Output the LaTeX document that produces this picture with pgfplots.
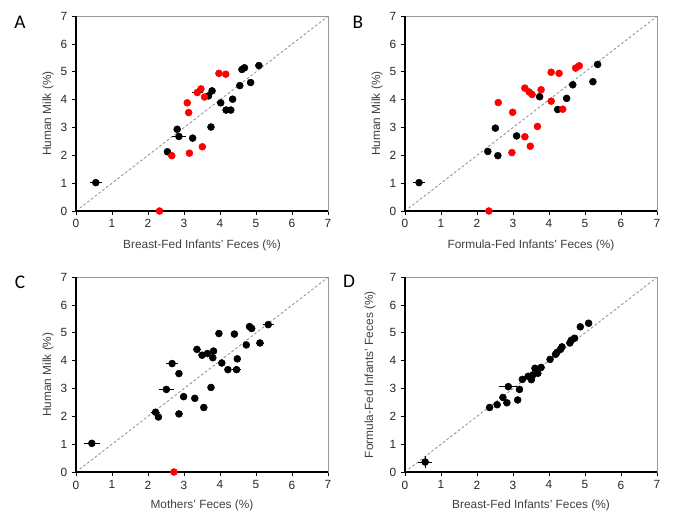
\documentclass[border=0pt]{standalone}
\usepackage{pgfplots}
\pgfplotsset{compat=1.18}
\usepackage{pgfplotstable}
\usepackage{fontspec}
\setmainfont{Liberation Sans}
\newfontfamily\letterfont{Carlito}

\pgfplotstableread{
x y ex
0.55 1.02 0.17
2.54 2.13 0
2.81 2.94 0
2.86 2.68 0.20
3.24 2.62 0
3.75 3.02 0
3.68 4.14 0
3.78 4.32 0
4.02 3.89 0
4.17 3.63 0
4.30 3.63 0
4.35 4.02 0
4.55 4.51 0
4.85 4.62 0
4.61 5.09 0
4.68 5.15 0
5.08 5.23 0
}\Ablack
\pgfplotstableread{
x y ex
2.32 0.00 0
2.66 1.99 0
3.15 2.08 0
3.51 2.31 0
3.09 3.89 0
3.13 3.54 0
3.37 4.26 0.15
3.47 4.39 0
3.57 4.10 0
3.97 4.95 0
4.16 4.92 0
}\Ared
\pgfplotstableread{
x y ex
0.39 1.02 0.17
2.30 2.14 0
2.58 1.99 0
2.51 2.98 0.10
3.10 2.70 0.10
3.74 4.11 0
4.24 3.65 0
4.49 4.05 0
4.66 4.54 0
5.22 4.65 0
5.35 5.27 0
}\Bblack
\pgfplotstableread{
x y ex
2.33 0.00 0
2.59 3.90 0
2.99 3.55 0
2.97 2.10 0
3.33 2.67 0
3.48 2.33 0
3.68 3.04 0
3.33 4.42 0
3.45 4.28 0
3.53 4.19 0
3.78 4.36 0
4.06 3.95 0
4.38 3.66 0
4.06 4.99 0
4.28 4.95 0
4.74 5.14 0
4.84 5.22 0
}\Bred
\pgfplotstableread{
x y ex
0.44 1.03 0.22
2.21 2.15 0.12
2.29 1.98 0.10
2.86 2.09 0.10
2.51 2.97 0.20
2.99 2.71 0
3.30 2.65 0
3.55 2.32 0
3.75 3.04 0
2.67 3.90 0.17
2.86 3.54 0
3.36 4.41 0.10
3.50 4.20 0
3.65 4.26 0
3.82 4.35 0
3.80 4.11 0
4.05 3.92 0
3.97 4.98 0
4.22 3.68 0
4.46 3.68 0.12
4.48 4.07 0
4.40 4.96 0
4.73 4.57 0
5.11 4.64 0.12
4.82 5.23 0
4.88 5.16 0
5.34 5.30 0.15
}\Cblack
\pgfplotstableread{
x y ex
2.72 0.00 0
}\Cred
\pgfplotstableread{
x y ex ey
0.56 0.36 0.20 0.20
2.35 2.32 0 0
2.56 2.42 0 0
2.72 2.68 0 0
2.83 2.49 0 0
2.87 3.07 0.25 0.12
3.18 2.97 0 0
3.13 2.59 0 0
3.26 3.33 0 0
3.42 3.44 0 0
3.51 3.32 0 0
3.55 3.49 0 0
3.61 3.73 0 0
3.69 3.55 0 0
3.78 3.76 0 0
4.03 4.05 0 0
4.18 4.23 0 0
4.22 4.30 0 0
4.32 4.41 0 0
4.36 4.50 0 0
4.58 4.64 0 0
4.62 4.74 0 0
4.71 4.81 0 0
4.87 5.22 0 0
5.10 5.35 0 0
}\Dblack

\pgfplotsset{
  panel/.style={
    scale only axis, width=189pt, height=146pt,
    anchor=south west,
    xmin=0, xmax=7, ymin=0, ymax=7,
    xtick={0,...,7}, ytick={0,...,7},
    tick align=outside, xtick pos=left, ytick pos=left,
    major tick length=3pt,
    axis line style={black!40, line width=0.6pt},
    tick style={black, line width=0.7pt},
    ticklabel style={font=\fontsize{8.9}{10}\selectfont, text=black!85},
    label style={font=\fontsize{8.9}{10}\selectfont, text=black!75},
    /pgf/number format/assume math mode=true,
    clip=false,
    xlabel style={at={(axis description cs:0.5,-0.175)}, anchor=center},
    ylabel style={at={(axis description cs:-0.111,0.5)}, anchor=center},
  },
  pts/.style={only marks, mark=*, mark size=2.6pt,
    error bars/x dir=both, error bars/x explicit, error bars/error mark=none,
    error bars/error bar style={black, line width=0.6pt}},
}
\newcommand{\diag}{\addplot[black!45, dash pattern=on 2pt off 1.6pt, line width=0.6pt] coordinates {(0.1,0.1) (7,7)};}
\newcommand{\frameLB}{\draw[black, line width=0.8pt] (rel axis cs:0,1) -- (rel axis cs:0,0) -- (rel axis cs:1,0);}

\begin{document}
\begin{tikzpicture}
\path (0,0) rectangle (513.75pt,396.75pt);
% A
\begin{axis}[panel, at={(57pt,238.5pt)},
  xlabel={Breast-Fed Infants' Feces (\%)}, ylabel={Human Milk (\%)}]
\diag
\addplot[pts, black, mark options={fill=black}] table[x=x, y=y, x error=ex]{\Ablack};
\addplot[pts, red, mark options={fill=red}] table[x=x, y=y, x error=ex]{\Ared};
\frameLB
\end{axis}
% B
\begin{axis}[panel, at={(303.75pt,238.5pt)},
  xlabel={Formula-Fed Infants' Feces (\%)}, ylabel={Human Milk (\%)}]
\diag
\addplot[pts, black, mark options={fill=black}] table[x=x, y=y, x error=ex]{\Bblack};
\addplot[pts, red, mark options={fill=red}] table[x=x, y=y, x error=ex]{\Bred};
\frameLB
\end{axis}
% C
\begin{axis}[panel, at={(57pt,42.75pt)},
  xlabel={Mothers' Feces (\%)}, ylabel={Human Milk (\%)},
  xlabel style={at={(axis description cs:0.5,-0.17)}}]
\diag
\addplot[pts, black, mark options={fill=black}] table[x=x, y=y, x error=ex]{\Cblack};
\addplot[pts, red, mark options={fill=red}] table[x=x, y=y, x error=ex]{\Cred};
\frameLB
\end{axis}
% D
\begin{axis}[panel, at={(303.75pt,42.75pt)},
  xlabel={Breast-Fed Infants' Feces (\%)}, ylabel={Formula-Fed Infants' Feces (\%)},
  xlabel style={at={(axis description cs:0.5,-0.17)}},
  ylabel style={at={(axis description cs:-0.139,0.5)}}]
\diag
\addplot[pts, black, mark options={fill=black}, error bars/y dir=both, error bars/y explicit] table[x=x, y=y, x error=ex, y error=ey]{\Dblack};
\frameLB
\end{axis}
\node[font=\letterfont\fontsize{14.5}{16}\selectfont] at (15pt,380.25pt) {A};
\node[font=\letterfont\fontsize{14.5}{16}\selectfont] at (268.5pt,380.25pt) {B};
\node[font=\letterfont\fontsize{14.5}{16}\selectfont] at (15pt,185.25pt) {C};
\node[font=\letterfont\fontsize{14.5}{16}\selectfont] at (261.75pt,186pt) {D};
\end{tikzpicture}
\end{document}
